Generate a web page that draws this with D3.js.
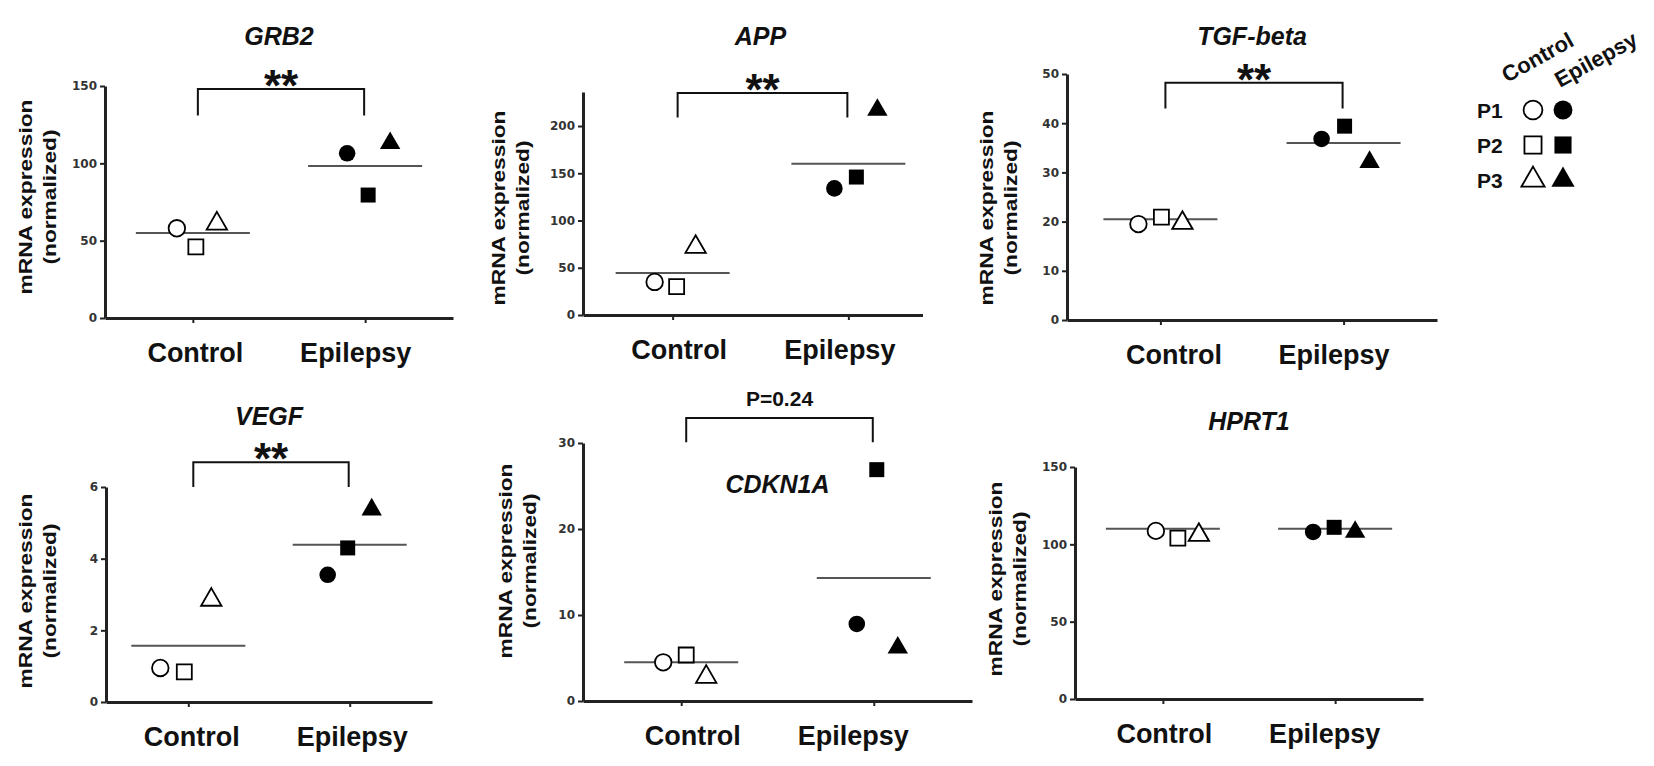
<!DOCTYPE html>
<html>
<head>
<meta charset="utf-8">
<script src="https://cdn.jsdelivr.net/npm/d3@7"></script>
<style>
  body { margin: 0; background: #fff; }
  svg { font-family: "Liberation Sans", Arial, sans-serif; }
  .tick-y text { font-family: "DejaVu Sans", sans-serif; font-weight: bold; font-size: 12px; fill: #333; }
</style>
</head>
<body>
<div id="chart"></div>
<script>
// values
const categories = ["Control", "Epilepsy"];
const patients = ["P1", "P2", "P3"];
const genes = ["GRB2", "APP", "TGF-beta", "VEGF", "CDKN1A", "HPRT1"];

const grb2Control = [58, 46, 61];
const grb2Epilepsy = [106.5, 79.5, 113];
const appControl = [35, 30, 72];
const appEpilepsy = [134, 146, 217];
const tgfControl = [19.5, 20.9, 19.7];
const tgfEpilepsy = [36.8, 39.4, 32.1];
const vegfControl = [0.95, 0.84, 2.85];
const vegfEpilepsy = [3.55, 4.3, 5.37];
const cdkn1aControl = [4.5, 5.35, 2.8];
const cdkn1aEpilepsy = [8.96, 26.9, 6.2];
const hprt1Control = [108.7, 104, 106];
const hprt1Epilepsy = [108, 111, 108];

// group means as drawn (control, epilepsy)
const grb2Means = [55, 98.3];
const appMeans = [44.4, 160];
const tgfMeans = [20.5, 36];
const vegfMeans = [1.57, 4.39];
const cdkn1aMeans = [4.5, 14.3];
const hprt1Means = [110, 110];

const grb2Ticks = [0, 50, 100, 150];
const appTicks = [0, 50, 100, 150, 200];
const tgfTicks = [0, 10, 20, 30, 40, 50];
const vegfTicks = [0, 2, 4, 6];
const cdkn1aTicks = [0, 10, 20, 30];
const hprt1Ticks = [0, 50, 100, 150];

const yMaxes = [150, 236, 50, 6, 30, 150];
const sigLabels = ["**", "**", "**", "**", "P=0.24", ""];

const series = [
  [grb2Control, grb2Epilepsy],
  [appControl, appEpilepsy],
  [tgfControl, tgfEpilepsy],
  [vegfControl, vegfEpilepsy],
  [cdkn1aControl, cdkn1aEpilepsy],
  [hprt1Control, hprt1Epilepsy]
];
const means = [grb2Means, appMeans, tgfMeans, vegfMeans, cdkn1aMeans, hprt1Means];
const ticks = [grb2Ticks, appTicks, tgfTicks, vegfTicks, cdkn1aTicks, hprt1Ticks];

// panel placement on the page
const layout = [
  { x0: 105, xEnd: 453, yTop: 86, yBot: 318, titleY: 45, labY: 197, labX: -73, bracket: [148, 131],
    jitter: [[-16, 3, 24], [-18, 3, 25]], catShift: [2, -10] },
  { x0: 583, xEnd: 938, yTop: 92, yBot: 315, titleY: 45, labY: 208, labX: -78, bracket: [235, 209],
    jitter: [[-18, 4, 23], [-14, 8, 29]], catShift: [6, -9], clipRight: 923 },
  { x0: 1067, xEnd: 1437, yTop: 74, yBot: 320, titleY: 45, labY: 208, labX: -74, bracket: [48.2, 43],
    jitter: [[-22, 1, 22], [-22, 1, 26]], catShift: [13, -10] },
  { x0: 106, xEnd: 432, yTop: 487, yBot: 702, titleY: 425, labY: 591, labX: -74, bracket: [6.69, 6.0],
    jitter: [[-28, -4, 23], [-22, -2, 22]], catShift: [3, 2] },
  { x0: 583, xEnd: 972, yTop: 443, yBot: 701, titleY: 493, labY: 561, labX: -71, bracket: [32.9, 30.1],
    jitter: [[-18, 5, 25], [-17, 3, 24]], catShift: [11, -21], sigY: 406 },
  { x0: 1075, xEnd: 1423, yTop: 467, yBot: 699, titleY: 430, labY: 579, labX: -73, bracket: null,
    jitter: [[-7, 15, 36], [-22, -1, 20]], catShift: [1, -11] }
];

const width = 1654;
const height = 766;
const shapes = [d3.symbolCircle, d3.symbolSquare, d3.symbolTriangle];
const sizes = [215, 225, 180];

const svg = d3.select("#chart")
  .append("svg")
  .attr("width", width)
  .attr("height", height);

genes.forEach((gene, i) => {
  const L = layout[i];

  const x = d3.scalePoint()
    .domain(categories)
    .range([L.x0, L.xEnd])
    .padding(0.51);

  const y = d3.scaleLinear()
    .domain([0, yMaxes[i]])
    .range([L.yBot, L.yTop]);

  const g = svg.append("g").attr("class", "panel");

  if (L.clipRight) {
    svg.append("clipPath").attr("id", "clip" + i)
      .append("rect").attr("x", 0).attr("y", 0).attr("width", L.clipRight).attr("height", height);
    g.attr("clip-path", `url(#clip${i})`);
  }

  // y axis
  const yAxis = g.append("g")
    .attr("class", "tick-y")
    .attr("transform", `translate(${L.x0},0)`)
    .call(d3.axisLeft(y).tickValues(ticks[i]).tickSize(5).tickSizeOuter(0).tickPadding(3).tickFormat(d3.format("d")));
  yAxis.select(".domain").attr("stroke", "#222").attr("stroke-width", 3);
  yAxis.selectAll(".tick line").attr("stroke", "#222").attr("stroke-width", 2);

  // x axis
  const xAxis = g.append("g")
    .attr("transform", `translate(0,${L.yBot})`)
    .call(d3.axisBottom(x).tickSize(5).tickSizeOuter(0).tickPadding(36));
  xAxis.select(".domain").attr("stroke", "#222").attr("stroke-width", 3);
  xAxis.selectAll(".tick line").attr("stroke", "#222").attr("stroke-width", 2);
  xAxis.selectAll(".tick text")
    .attr("fill", "#111")
    .attr("font-family", "'Liberation Sans', Arial, sans-serif")
    .attr("font-weight", "bold")
    .attr("font-size", 27)
    .attr("dy", 0)
    .attr("y", 44)
    .attr("x", (d, k) => L.catShift[k]);

  // y label
  const lab = g.append("g")
    .attr("transform", `translate(${L.x0 + L.labX},${L.labY}) rotate(-90) scale(1.3,1)`)
    .attr("font-weight", "bold")
    .attr("font-size", 17.5)
    .attr("fill", "#111")
    .attr("text-anchor", "middle");
  lab.append("text").attr("y", 0).text("mRNA expression");
  lab.append("text").attr("y", 24).text("(normalized)");

  // title
  const mid = (x("Control") + x("Epilepsy")) / 2;
  g.append("text")
    .attr("x", mid)
    .attr("y", L.titleY)
    .attr("text-anchor", "middle")
    .attr("font-weight", "bold")
    .attr("font-style", "italic")
    .attr("font-size", 25)
    .attr("fill", "#111")
    .text(gene);

  // significance bracket
  if (L.bracket) {
    const bx0 = x("Control") + 5;
    const bx1 = x("Epilepsy") - 1;
    const by = y(L.bracket[0]);
    const bl = y(L.bracket[1]);
    g.append("path")
      .attr("d", `M${bx0},${bl}V${by}H${bx1}V${bl}`)
      .attr("fill", "none")
      .attr("stroke", "#111")
      .attr("stroke-width", 2);
    const star = sigLabels[i] === "**";
    g.append("text")
      .attr("x", (bx0 + bx1) / 2)
      .attr("y", star ? by + 12 : L.sigY)
      .attr("text-anchor", "middle")
      .attr("font-weight", "bold")
      .attr("font-size", star ? 44 : 21)
      .attr("fill", "#111")
      .text(sigLabels[i]);
  }

  // mean lines
  g.selectAll(".mean")
    .data(means[i])
    .enter()
    .append("line")
    .attr("class", "mean")
    .attr("x1", (d, k) => x(categories[k]) - 57)
    .attr("x2", (d, k) => x(categories[k]) + 57)
    .attr("y1", d => y(d))
    .attr("y2", d => y(d))
    .attr("stroke", "#555")
    .attr("stroke-width", 2);

  // points
  series[i].forEach((vals, k) => {
    const filled = k === 1;
    g.selectAll(".pt" + k)
      .data(vals)
      .enter()
      .append("path")
      .attr("class", "pt" + k)
      .attr("d", (d, j) => d3.symbol(shapes[j], sizes[j])())
      .attr("transform", (d, j) => `translate(${x(categories[k]) + L.jitter[k][j]},${y(d)})`)
      .attr("fill", filled ? "#000" : "#fff")
      .attr("stroke", "#000")
      .attr("stroke-width", filled ? 0 : 1.8);
  });
});

// legend
const legend = svg.append("g").attr("font-weight", "bold").attr("fill", "#111");
legend.append("text")
  .attr("transform", "translate(1507,83) rotate(-29)")
  .attr("font-size", 22)
  .text(categories[0]);
legend.append("text")
  .attr("transform", "translate(1560,88) rotate(-29)")
  .attr("font-size", 22)
  .text(categories[1]);

const legendY = d3.scalePoint().domain(patients).range([110, 180]);
patients.forEach((p, j) => {
  legend.append("text")
    .attr("x", 1477)
    .attr("y", legendY(p) + 8)
    .attr("font-size", 21)
    .text(p);
  [1533, 1563].forEach((lx, k) => {
    legend.append("path")
      .attr("d", d3.symbol(shapes[j], sizes[j] * 1.3)())
      .attr("transform", `translate(${lx},${legendY(p)})`)
      .attr("fill", k === 1 ? "#000" : "#fff")
      .attr("stroke", "#000")
      .attr("stroke-width", k === 1 ? 0 : 1.8);
  });
});
</script>
</body>
</html>
